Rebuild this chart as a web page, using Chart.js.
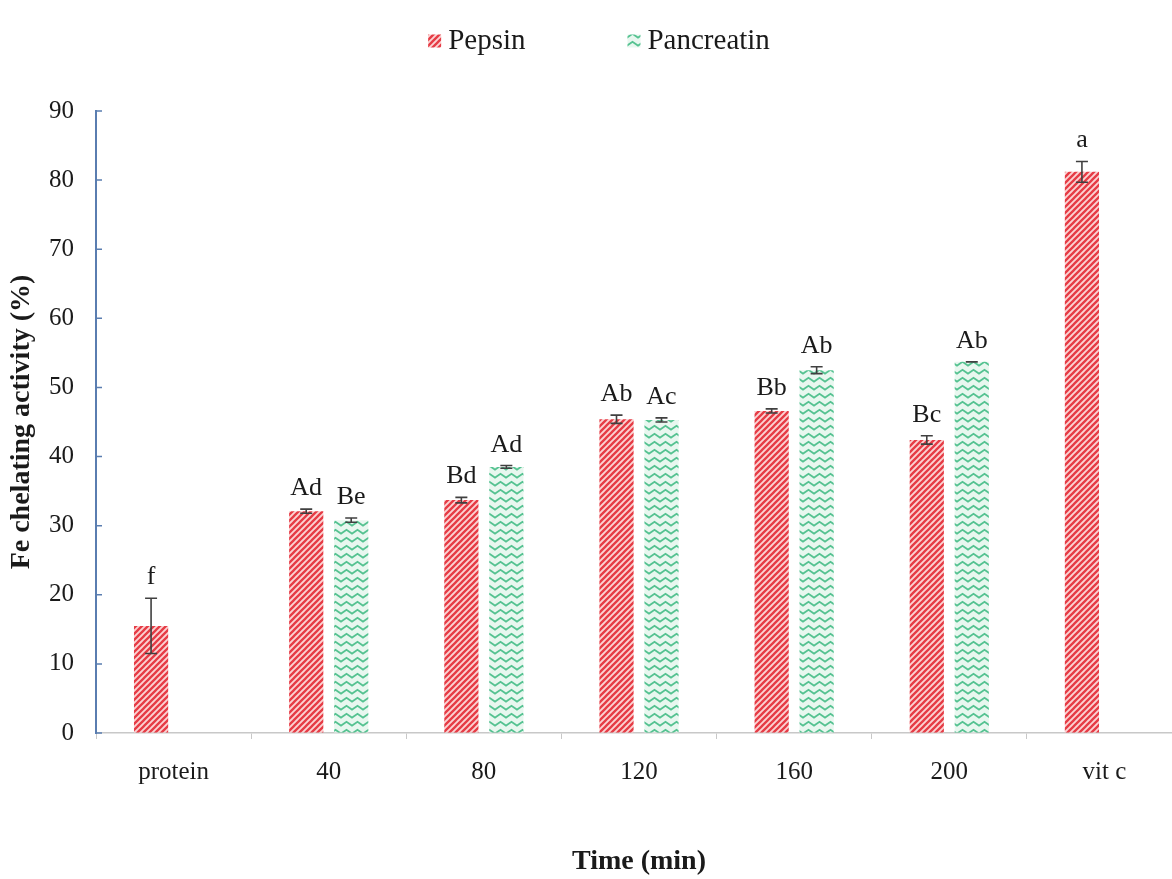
<!DOCTYPE html>
<html>
<head>
<meta charset="utf-8">
<script src="https://cdn.jsdelivr.net/npm/chart.js@4/dist/chart.umd.min.js"></script>
<style>
  html, body { margin: 0; padding: 0; background: #fff; overflow: hidden; }
  #wrap { width: 1172px; height: 879px; overflow: hidden; }
</style>
</head>
<body>
<div id="wrap"><canvas id="myChart" width="1182" height="879"></canvas></div>
<script>
//data
const categories = ['protein', '40', '80', '120', '160', '200', 'vit c'];
const pepsin = [15.5, 32.1, 33.7, 45.4, 46.6, 42.4, 81.2];
const pancreatin = [null, 30.8, 38.5, 45.3, 52.5, 53.7, null];
const pepsinErr = [4.0, 0.3, 0.4, 0.6, 0.3, 0.6, 1.5];
const pancreatinErr = [null, 0.3, 0.2, 0.3, 0.5, 0, null];
const pepsinLetters = ['f', 'Ad', 'Bd', 'Ab', 'Bb', 'Bc', 'a'];
const pancreatinLetters = ['', 'Be', 'Ad', 'Ac', 'Ab', 'Ab', ''];
const yTicks = [0, 10, 20, 30, 40, 50, 60, 70, 80, 90];

//color
const serif = '"Liberation Serif", "Times New Roman", serif';
const textColor = '#1a1a1a';
const errColor = '#404040';
const axisBlue = '#5a7db0';

const stripePattern = () => {
    const s = 6;
    const c = document.createElement('canvas');
    c.width = s; c.height = s;
    const g = c.getContext('2d');
    g.fillStyle = '#fbd3d3';
    g.fillRect(0, 0, s, s);
    g.strokeStyle = '#e63b45';
    g.lineWidth = 2.3;
    g.beginPath();
    g.moveTo(0, s); g.lineTo(s, 0);
    g.moveTo(-1, 1); g.lineTo(1, -1);
    g.moveTo(s - 1, s + 1); g.lineTo(s + 1, s - 1);
    g.stroke();
    return g.createPattern(c, 'repeat');
}

const zigzagPattern = () => {
    const w = 11, h = 8;
    const c = document.createElement('canvas');
    c.width = w; c.height = h;
    const g = c.getContext('2d');
    g.fillStyle = '#e8f7ef';
    g.fillRect(0, 0, w, h);
    g.strokeStyle = '#55c291';
    g.lineWidth = 1.9;
    g.beginPath();
    g.moveTo(-1, 6.3); g.lineTo(5.5, 1.8); g.lineTo(12, 6.3);
    g.stroke();
    return g.createPattern(c, 'repeat');
}

const pepsinFill = stripePattern();
const pancreatinFill = zigzagPattern();

// error bars + letters above bars
const errorBars = {
    id: 'errorBars',
    afterDatasetsDraw(chart) {
        const { ctx, scales: { y } } = chart;
        const errs = [pepsinErr, pancreatinErr];
        const letters = [pepsinLetters, pancreatinLetters];
        ctx.save();
        chart.data.datasets.forEach((ds, i) => {
            chart.getDatasetMeta(i).data.forEach((bar, j) => {
                const v = ds.data[j];
                if (v == null) return;
                const e = errs[i][j] || 0;
                const top = y.getPixelForValue(v + e);
                const bot = y.getPixelForValue(v - e);
                ctx.strokeStyle = errColor;
                ctx.lineWidth = 1.6;
                ctx.beginPath();
                ctx.moveTo(bar.x, top); ctx.lineTo(bar.x, bot);
                ctx.moveTo(bar.x - 6, top); ctx.lineTo(bar.x + 6, top);
                ctx.moveTo(bar.x - 6, bot); ctx.lineTo(bar.x + 6, bot);
                ctx.stroke();
                ctx.fillStyle = textColor;
                ctx.font = `26px ${serif}`;
                ctx.textAlign = 'center';
                ctx.textBaseline = 'alphabetic';
                ctx.fillText(letters[i][j], bar.x, top - 14);
            });
        });
        ctx.restore();
    }
}

// small tick marks pointing into the plot on the y axis
const innerTicks = {
    id: 'innerTicks',
    afterDraw(chart) {
        const { ctx, scales: { y }, chartArea } = chart;
        ctx.save();
        ctx.strokeStyle = axisBlue;
        ctx.lineWidth = 1.5;
        ctx.beginPath();
        yTicks.forEach(v => {
            const py = y.getPixelForValue(v);
            ctx.moveTo(chartArea.left, py);
            ctx.lineTo(chartArea.left + 6, py);
        });
        ctx.stroke();
        ctx.restore();
    }
}

// legend drawn at the top centre
const topLegend = {
    id: 'topLegend',
    afterDraw(chart) {
        const { ctx } = chart;
        const items = [['Pepsin', pepsinFill], ['Pancreatin', pancreatinFill]];
        ctx.save();
        ctx.font = `29px ${serif}`;
        const box = 13, gapBox = 7, gapItem = 102;
        const widths = items.map(it => box + gapBox + ctx.measureText(it[0]).width);
        const total = widths[0] + widths[1] + gapItem;
        let x = 599 - total / 2;
        const yc = 41;
        items.forEach((it, i) => {
            ctx.fillStyle = it[1];
            ctx.fillRect(x, yc - box / 2, box, box);
            ctx.fillStyle = textColor;
            ctx.textAlign = 'left';
            ctx.textBaseline = 'middle';
            ctx.fillText(it[0], x + box + gapBox, yc);
            x += widths[i] + gapItem;
        });
        ctx.restore();
    }
}

const barChart = (ctx) => {
    const data = {
        labels: categories,
        datasets: [{
            label: 'Pepsin',
            data: pepsin,
            backgroundColor: pepsinFill,
            borderWidth: 0,
            categoryPercentage: 0.58,
            barPercentage: 0.76,
        }, {
            label: 'Pancreatin',
            data: pancreatin,
            backgroundColor: pancreatinFill,
            borderWidth: 0,
            categoryPercentage: 0.58,
            barPercentage: 0.76,
        }]
    };

    const config = {
        type: 'bar',
        data: data,
        options: {
            responsive: false,
            animation: false,
            layout: {
                padding: { top: 111, right: 0, left: 0, bottom: 0 }
            },
            scales: {
                x: {
                    afterFit: (axis) => { axis.height = 146; },
                    grid: {
                        offset: true,
                        drawOnChartArea: false,
                        tickLength: 6,
                        color: '#c8c8c8',
                    },
                    border: { color: '#c8c8c8', width: 1.5 },
                    ticks: {
                        color: textColor,
                        font: { family: serif, size: 25 },
                        padding: 18,
                    },
                    title: {
                        display: true,
                        text: 'Time (min)',
                        color: textColor,
                        font: { family: serif, size: 28, weight: 'bold' },
                        padding: { top: 54, bottom: 0 },
                    }
                },
                y: {
                    min: 0,
                    max: 90,
                    afterBuildTicks: (axis) => {
                        axis.ticks = yTicks.map(v => ({ value: v }));
                    },
                    afterFit: (axis) => { axis.width = 96; },
                    grid: {
                        drawOnChartArea: false,
                        drawTicks: false,
                    },
                    border: { color: axisBlue, width: 2 },
                    ticks: {
                        color: textColor,
                        font: { family: serif, size: 25 },
                        padding: 22,
                    },
                    title: {
                        display: true,
                        text: 'Fe chelating activity (%)',
                        color: textColor,
                        font: { family: serif, size: 28, weight: 'bold' },
                        padding: { top: 5, bottom: 0 },
                    }
                },
            },
            plugins: {
                legend: { display: false },
                tooltip: { enabled: false },
            }
        },
        plugins: [errorBars, innerTicks, topLegend]
    };
    return new Chart(ctx, config);
}

//element
const ctx = document.getElementById('myChart').getContext('2d');

//instantiating Chart
const myBarChart = barChart(ctx);
</script>
</body>
</html>
